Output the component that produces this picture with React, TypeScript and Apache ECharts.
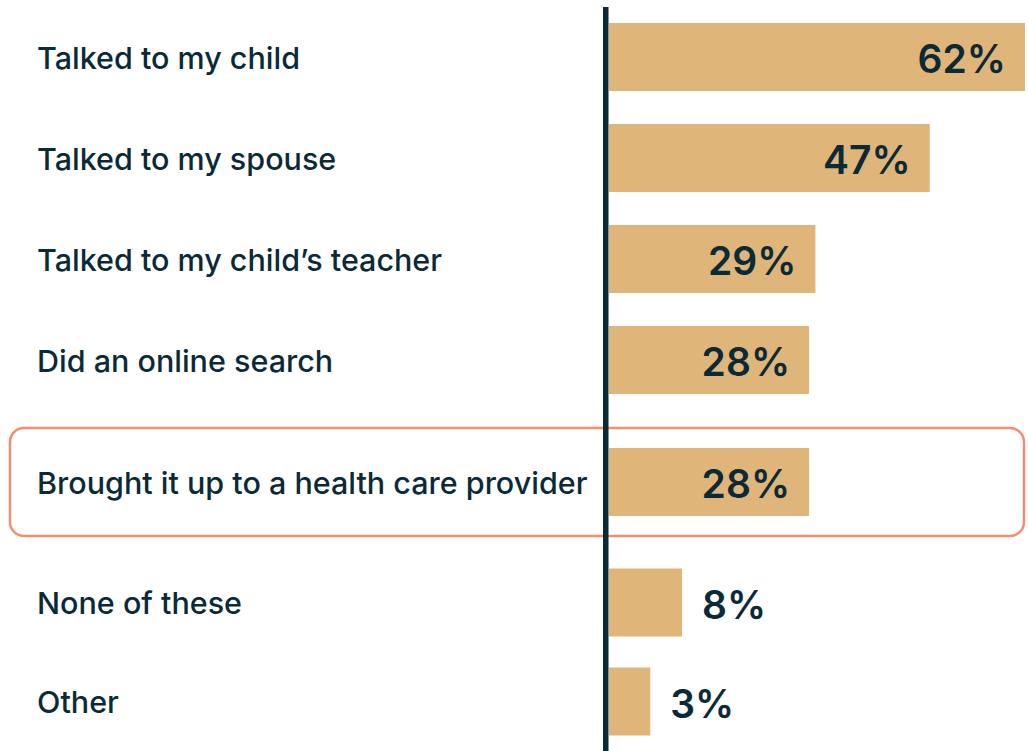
import React, { useEffect, useRef } from "react";
import * as echarts from "echarts";

const categories = [
  "Talked to my child",
  "Talked to my spouse",
  "Talked to my child’s teacher",
  "Did an online search",
  "Brought it up to a health care provider",
  "None of these",
  "Other",
];
const values = [62, 47, 29, 28, 28, 8, 3];
// rows split into blocks: before highlight, highlight, after
const blocks = [
  [0, 4],
  [4, 5],
  [5, 7],
];
const highlightIndex = 4;

const X_MIN = -3.5;
const X_MAX = 62;
const BAR_COLOR = "#E0B579";
const TEXT_COLOR = "#0B2A38";
const FONT = "Inter, 'Noto Sans', sans-serif";

// grid layout (px) for each block
const gridLayout = [
  { top: 6.5, height: 404 },
  { top: 432, height: 100 },
  { top: 553, height: 200 },
];

export default function App() {
  const ref = useRef<HTMLDivElement>(null);
  useEffect(() => {
    if (!ref.current) return;
    const chart = echarts.init(ref.current, undefined, { renderer: "svg" });
    const grids: any[] = [];
    const xAxes: any[] = [];
    const yAxes: any[] = [];
    const series: any[] = [];
    blocks.forEach(([s, e], i) => {
      const cats = categories.slice(s, e);
      const vals = values.slice(s, e);
      grids.push({ left: 609, right: 3, top: gridLayout[i].top, height: gridLayout[i].height });
      xAxes.push({
        gridIndex: i,
        type: "value",
        min: X_MIN,
        max: X_MAX,
        show: false,
      });
      yAxes.push({
        gridIndex: i,
        type: "category",
        inverse: true,
        data: cats,
        axisLine: { show: false },
        axisTick: { show: false },
        splitLine: { show: false },
        axisLabel: {
          align: "left",
          margin: 572,
          color: TEXT_COLOR,
          fontFamily: FONT,
          fontSize: 30.5,
          fontWeight: 500,
        },
      });
      series.push({
        type: "custom",
        xAxisIndex: i,
        yAxisIndex: i,
        encode: { x: 1, y: 0 },
        data: cats.map((c, k) => [k, vals[k]]),
        renderItem: (params: any, api: any) => {
          const idx = api.value(0);
          const v = api.value(1);
          const start = api.coord([X_MIN, idx]);
          const end = api.coord([v, idx]);
          const h = 68;
          const inside = v >= 20;
          return {
            type: "group",
            children: [
              {
                type: "rect",
                shape: { x: start[0], y: start[1] - h / 2, width: end[0] - start[0], height: h },
                style: { fill: BAR_COLOR },
              },
              {
                type: "text",
                x: inside ? end[0] - 19 : end[0] + 20,
                y: end[1] + 1.5,
                style: {
                  text: v + "%",
                  align: inside ? "right" : "left",
                  verticalAlign: "middle",
                  fill: TEXT_COLOR,
                  font: `600 39px ${FONT}`,
                },
              },
            ],
          };
        },
      });
    });

    const hl = gridLayout[blocks.findIndex(([s, e]) => highlightIndex >= s && highlightIndex < e)];

    chart.setOption({
      animation: false,
      grid: grids,
      xAxis: xAxes,
      yAxis: yAxes,
      series,
      graphic: [
        {
          type: "rect",
          z: 1,
          shape: { x: 10, y: hl.top - 4, width: 1014, height: hl.height + 8, r: 14 },
          style: { fill: "none", stroke: "#F78C6F", lineWidth: 2.5 },
        },
        {
          type: "rect",
          z: 10,
          shape: { x: 603, y: 7, width: 5.5, height: 744 },
          style: { fill: TEXT_COLOR },
        },
      ],
    });
    return () => chart.dispose();
  }, []);
  return (
    <div
      ref={ref}
      style={{ position: "fixed", left: 0, top: 0, width: 1028, height: 751, background: "#fff" }}
    />
  );
}
